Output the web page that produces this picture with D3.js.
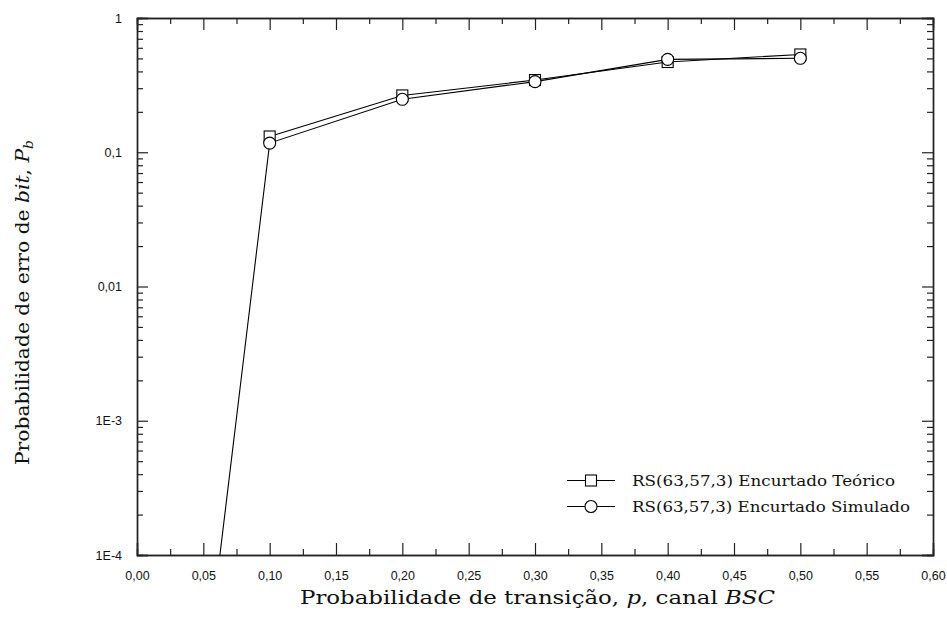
<!DOCTYPE html>
<html>
<head>
<meta charset="utf-8">
<script src="https://cdn.jsdelivr.net/npm/d3@7"></script>
<style>
  html, body { margin: 0; padding: 0; background: #fff; }
  svg { display: block; }
</style>
</head>
<body>
<svg id="chart" width="947" height="627"></svg>
<script>
// Transition probability p of the BSC channel
const pValues = [0.05, 0.10, 0.20, 0.30, 0.40, 0.50];
// Theoretical bit error probability, shortened RS(63,57,3)
const theoretical = [null, 0.131, 0.265, 0.345, 0.47, 0.535];
// Simulated bit error probability, shortened RS(63,57,3)
const simulated = [9.5e-6, 0.117, 0.248, 0.336, 0.492, 0.501];

const xTickValues = [0, 0.05, 0.10, 0.15, 0.20, 0.25, 0.30, 0.35, 0.40, 0.45, 0.50, 0.55, 0.60];
const yTickValues = [1e-4, 1e-3, 1e-2, 1e-1, 1];
const yTickLabels = ["1E-4", "1E-3", "0,01", "0,1", "1"];
const legendLabels = ["RS(63,57,3) Encurtado Teórico", "RS(63,57,3) Encurtado Simulado"];

const svg = d3.select("#chart");
const L = 137, R = 933, T = 18, B = 555;

const x = d3.scaleLinear().domain([0, 0.60]).range([L, R]);
const y = d3.scaleLog().domain([1e-4, 1]).range([B, T]);

const axisColor = "#222";

// minor ticks
const xMinor = d3.range(0, 12).map(i => 0.025 + i * 0.05);
const yMinor = [];
for (let e = -4; e < 0; e++) for (let k = 2; k <= 9; k++) yMinor.push(k * Math.pow(10, e));

const fmtX = d => d.toFixed(2).replace(".", ",");

// bottom axis with labels
const gBottom = svg.append("g").attr("transform", `translate(0,${B})`)
  .call(d3.axisBottom(x).tickValues(xTickValues).tickSize(-12).tickPadding(16).tickFormat(fmtX));
gBottom.append("g").call(d3.axisBottom(x).tickValues(xMinor).tickSize(-6).tickFormat(""));

// top axis
const gTop = svg.append("g").attr("transform", `translate(0,${T})`)
  .call(d3.axisTop(x).tickValues(xTickValues).tickSize(-12).tickFormat(""));
gTop.append("g").call(d3.axisTop(x).tickValues(xMinor).tickSize(-6).tickFormat(""));

// left axis with labels
const gLeft = svg.append("g").attr("transform", `translate(${L},0)`)
  .call(d3.axisLeft(y).tickValues(yTickValues).tickSize(-11).tickPadding(15)
    .tickFormat((d, i) => yTickLabels[i]));
gLeft.append("g").call(d3.axisLeft(y).tickValues(yMinor).tickSize(-6).tickFormat(""));

// right axis
const gRight = svg.append("g").attr("transform", `translate(${R},0)`)
  .call(d3.axisRight(y).tickValues(yTickValues).tickSize(-11).tickFormat(""));
gRight.append("g").call(d3.axisRight(y).tickValues(yMinor).tickSize(-6).tickFormat(""));

svg.selectAll(".domain").attr("stroke", axisColor).attr("stroke-width", 1.4);
svg.selectAll(".tick line").attr("stroke", axisColor).attr("stroke-width", 1.2);
svg.selectAll(".tick text")
  .attr("font-family", "'Liberation Sans', Arial, sans-serif")
  .attr("font-size", 12.5).attr("fill", "#111");

// clip for data lines
svg.append("defs").append("clipPath").attr("id", "plotClip")
  .append("rect").attr("x", L).attr("y", T).attr("width", R - L).attr("height", B - T);

const line = d3.line()
  .defined(d => d[1] != null)
  .x(d => x(d[0])).y(d => y(d[1]));

const theoPts = pValues.map((p, i) => [p, theoretical[i]]);
const simPts = pValues.map((p, i) => [p, simulated[i]]);

const gData = svg.append("g").attr("clip-path", "url(#plotClip)");
gData.append("path").datum(theoPts).attr("d", line)
  .attr("fill", "none").attr("stroke", "#000").attr("stroke-width", 1.1);
gData.append("path").datum(simPts).attr("d", line)
  .attr("fill", "none").attr("stroke", "#000").attr("stroke-width", 1.1);

const inRange = d => d[1] != null && d[1] >= 1e-4 && d[1] <= 1;
const sq = 11;
gData.selectAll("rect.theo").data(theoPts.filter(inRange)).join("rect")
  .attr("class", "theo")
  .attr("x", d => x(d[0]) - sq / 2).attr("y", d => y(d[1]) - sq / 2)
  .attr("width", sq).attr("height", sq)
  .attr("fill", "#fff").attr("stroke", "#000").attr("stroke-width", 1.1);
gData.selectAll("circle.sim").data(simPts.filter(inRange)).join("circle")
  .attr("class", "sim")
  .attr("cx", d => x(d[0])).attr("cy", d => y(d[1])).attr("r", 6)
  .attr("fill", "#fff").attr("stroke", "#000").attr("stroke-width", 1.1);

// legend
const serif = "'DejaVu Serif', serif";
const legend = svg.append("g");
const rows = [480.5, 506.5];
const legendWidths = [263, 278];
legendLabels.forEach((lab, i) => {
  const ly = rows[i];
  legend.append("line").attr("x1", 567).attr("x2", 615).attr("y1", ly).attr("y2", ly)
    .attr("stroke", "#000").attr("stroke-width", 1.1);
  if (i === 0) {
    legend.append("rect").attr("x", 591 - 5.5).attr("y", ly - 5.5).attr("width", 11).attr("height", 11)
      .attr("fill", "#fff").attr("stroke", "#000").attr("stroke-width", 1.1);
  } else {
    legend.append("circle").attr("cx", 591).attr("cy", ly).attr("r", 6)
      .attr("fill", "#fff").attr("stroke", "#000").attr("stroke-width", 1.1);
  }
  legend.append("text").attr("x", 632).attr("y", ly + 5)
    .attr("font-family", serif).attr("font-size", 14).attr("fill", "#111")
    .attr("textLength", legendWidths[i]).attr("lengthAdjust", "spacingAndGlyphs")
    .text(lab);
});

// x axis title
const xt = svg.append("text").attr("x", 300).attr("y", 604)
  .attr("font-family", serif).attr("font-size", 19).attr("fill", "#111")
  .attr("textLength", 475).attr("lengthAdjust", "spacingAndGlyphs");
xt.append("tspan").text("Probabilidade de transição, ");
xt.append("tspan").attr("font-style", "italic").text("p");
xt.append("tspan").text(", canal ");
xt.append("tspan").attr("font-style", "italic").text("BSC");

// y axis title
const yt = svg.append("text").attr("transform", "translate(29,465) rotate(-90)")
  .attr("font-family", serif).attr("font-size", 19).attr("fill", "#111")
  .attr("textLength", 325).attr("lengthAdjust", "spacingAndGlyphs");
yt.append("tspan").text("Probabilidade de erro de ");
yt.append("tspan").attr("font-style", "italic").text("bit");
yt.append("tspan").text(", ");
yt.append("tspan").attr("font-style", "italic").text("P");
yt.append("tspan").attr("font-style", "italic").attr("font-size", 13).attr("dy", 4).text("b");
</script>
</body>
</html>
